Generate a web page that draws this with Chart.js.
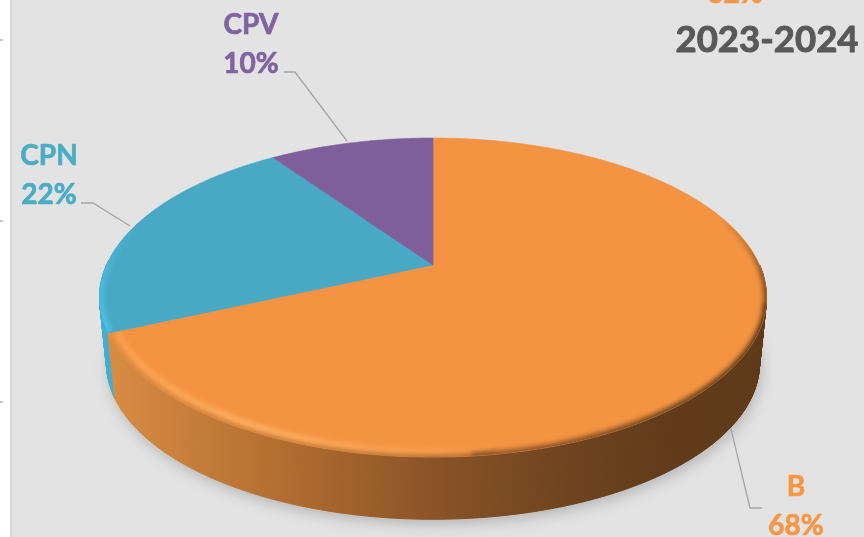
<!DOCTYPE html>
<html><head><meta charset="utf-8">
<style>html,body{margin:0;padding:0;background:#fff}canvas{display:block}</style>
<script src="https://cdn.jsdelivr.net/npm/chart.js@4"></script>
</head><body><canvas id="c" width="864" height="537"></canvas>
<script>
const categories = ['B', 'CPN', 'CPV'];
const shares = [68.3, 22.0, 9.7];
const topColors = ['#f49443', '#49a8c4', '#7f5f9b'];
const textColors = ['#f79646', '#4bacc6', '#8064a2'];
const title = '2023-2024';
const clippedLabel = '62%';

const CX = 433, CY = 265, R = 326.5, RY = 152.9, K = -0.204;
const DEPTH = 67, LOW = 0.98;
function pt(a, s, dy) {
  s = s === undefined ? 1 : s; dy = dy || 0;
  const u = Math.cos(a) * s, v = Math.sin(a) * s, w = 1 + K * v;
  return [CX + R * u / w, CY + dy + RY * v / w];
}
function low(a) { return pt(a, LOW, DEPTH); }
function outline(ctx, fn) {
  ctx.beginPath();
  for (let i = 0; i <= 360; i++) {
    const p = fn(i * Math.PI / 180);
    i ? ctx.lineTo(p[0], p[1]) : ctx.moveTo(p[0], p[1]);
  }
  ctx.closePath();
}
function arcPath(ctx, a0, a1, s) {
  ctx.beginPath();
  const n = Math.max(2, Math.ceil(Math.abs(a1 - a0) * 90));
  for (let i = 0; i <= n; i++) {
    const p = pt(a0 + (a1 - a0) * i / n, s);
    i ? ctx.lineTo(p[0], p[1]) : ctx.moveTo(p[0], p[1]);
  }
}
function wall(ctx, a0, a1, style) {
  ctx.fillStyle = style; ctx.strokeStyle = style; ctx.lineWidth = 1;
  const n = Math.ceil((a1 - a0) * 90);
  for (let i = 0; i < n; i++) {
    const b0 = a0 + (a1 - a0) * i / n, b1 = a0 + (a1 - a0) * (i + 1) / n;
    const p = [pt(b0), pt(b1), low(b1), low(b0)];
    ctx.beginPath();
    p.forEach((q, j) => j ? ctx.lineTo(q[0], q[1]) : ctx.moveTo(q[0], q[1]));
    ctx.closePath(); ctx.fill(); ctx.stroke();
  }
}

const pie3d = {
  id: 'pie3d',
  beforeDraw(chart) {
    const ctx = chart.ctx;
    ctx.save();
    ctx.fillStyle = '#fff'; ctx.fillRect(0, 0, 864, 537);
    ctx.fillStyle = '#e3e3e3'; ctx.fillRect(10, 0, 854, 537);
    ctx.fillStyle = '#d8d8d8'; ctx.fillRect(10, 0, 2, 537);
    ctx.fillStyle = '#c4c4c4';
    [40, 221, 402].forEach(y => ctx.fillRect(0, y - 1, 3, 2));
    ctx.restore();
  },
  beforeDatasetsDraw(chart) {
    const ctx = chart.ctx, arcs = chart.getDatasetMeta(0).data;
    ctx.save();
    // shadow
    ctx.save();
    ctx.filter = 'blur(7px)';
    ctx.fillStyle = 'rgba(0,0,0,0.2)';
    outline(ctx, a => { const p = low(a); return [p[0] + 2, p[1] + 5]; });
    ctx.fill();
    ctx.restore();
    // side walls
    const g = ctx.createLinearGradient(105, 0, 765, 0);
    g.addColorStop(0, '#d98d44');
    g.addColorStop(0.1, '#cb813c');
    g.addColorStop(0.3, '#ad6a2e');
    g.addColorStop(0.5, '#8a5327');
    g.addColorStop(0.7, '#6f441f');
    g.addColorStop(0.85, '#613b1a');
    g.addColorStop(1, '#5f3a19');
    const orangeEnd = arcs[0].endAngle;
    wall(ctx, 0, Math.PI * 0.02, '#5f3a19');
    wall(ctx, orangeEnd, orangeEnd + 0.45, '#46add0');
    wall(ctx, 0, orangeEnd, g);
    // top surface
    arcs.forEach((arc, i) => {
      ctx.beginPath();
      ctx.moveTo(CX, CY);
      const n = Math.ceil((arc.endAngle - arc.startAngle) * 90);
      for (let j = 0; j <= n; j++) {
        const p = pt(arc.startAngle + (arc.endAngle - arc.startAngle) * j / n);
        ctx.lineTo(p[0], p[1]);
      }
      ctx.closePath();
      ctx.fillStyle = topColors[i];
      ctx.fill();
      ctx.strokeStyle = topColors[i]; ctx.lineWidth = 0.6; ctx.stroke();
      // bevel
      ctx.save();
      ctx.clip();
      ctx.lineCap = 'butt';
      if (i === 0) {
        ctx.filter = 'blur(2.5px)';
        const m = ctx.createLinearGradient(110, 0, 520, 0);
        m.addColorStop(0, 'rgba(214,136,66,0.85)');
        m.addColorStop(1, 'rgba(160,98,48,0.95)');
        ctx.strokeStyle = m; ctx.lineWidth = 6;
        arcPath(ctx, Math.PI * 0.45, arc.endAngle, 1.0); ctx.stroke();
        const h = ctx.createLinearGradient(110, 0, 520, 0);
        h.addColorStop(0, 'rgba(255,176,96,0.55)');
        h.addColorStop(0.35, 'rgba(255,182,104,1)');
        h.addColorStop(0.8, 'rgba(255,170,90,0.6)');
        h.addColorStop(1, 'rgba(255,170,90,0)');
        ctx.strokeStyle = h; ctx.lineWidth = 5;
        arcPath(ctx, Math.PI * 0.45, arc.endAngle, 0.976); ctx.stroke();
        const d = ctx.createLinearGradient(480, 0, 760, 0);
        d.addColorStop(0, 'rgba(140,84,40,0.9)');
        d.addColorStop(1, 'rgba(90,54,22,1)');
        ctx.strokeStyle = d; ctx.lineWidth = 8;
        arcPath(ctx, 0.25, Math.PI * 0.47, 1.003); ctx.stroke();
        const e = ctx.createLinearGradient(0, 215, 0, 345);
        e.addColorStop(0, 'rgba(90,54,22,0)');
        e.addColorStop(0.5, 'rgba(90,54,22,0.75)');
        e.addColorStop(1, 'rgba(90,54,22,1)');
        ctx.strokeStyle = e; ctx.lineWidth = 8;
        arcPath(ctx, -0.75, 0.27, 1.003); ctx.stroke();
      } else if (i === 1) {
        ctx.filter = 'blur(2px)';
        const b = ctx.createLinearGradient(0, 225, 0, 320);
        b.addColorStop(0, 'rgba(78,186,222,0)');
        b.addColorStop(0.6, 'rgba(78,186,222,0.9)');
        b.addColorStop(1, 'rgba(78,190,226,1)');
        ctx.strokeStyle = b; ctx.lineWidth = 10;
        arcPath(ctx, arc.startAngle, arc.startAngle + 0.7, 1.0); ctx.stroke();
      }
      ctx.restore();
    });
    ctx.restore();
    return false;
  },
  afterDraw(chart) {
    const ctx = chart.ctx;
    ctx.save();
    // leader lines
    ctx.strokeStyle = '#a6a6a6'; ctx.lineWidth = 1.3;
    [
      [[731, 429], [750, 508], [762, 508]],
      [[81, 203], [93, 203], [130, 226]],
      [[284, 72], [295, 72], [347, 141]]
    ].forEach(l => {
      ctx.beginPath();
      l.forEach((p, j) => j ? ctx.lineTo(p[0], p[1]) : ctx.moveTo(p[0], p[1]));
      ctx.stroke();
    });
    // labels
    ctx.textAlign = 'center';
    ctx.textBaseline = 'alphabetic';
    ctx.lineJoin = 'round';
    ctx.font = 'bold 28px Lato';
    ctx.lineWidth = 0.7;
    const spots = [[796, 496, 535], [49, 165, 204], [251, 34, 73]];
    const both = (t, x, y, c) => {
      ctx.fillStyle = c; ctx.strokeStyle = c;
      ctx.fillText(t, x, y); ctx.strokeText(t, x, y);
    };
    categories.forEach((c, i) => {
      both(c, spots[i][0], spots[i][1], textColors[i]);
      both(Math.round(shares[i]) + '%', spots[i][0], spots[i][2], textColors[i]);
    });
    both(clippedLabel, 735, 3, textColors[0]);
    ctx.font = 'bold 36.5px Lato';
    ctx.lineWidth = 1;
    both(title, 767, 52, '#595959');
    ctx.restore();
  }
};

new Chart(document.getElementById('c'), {
  type: 'pie',
  data: { labels: categories, datasets: [{ data: shares, backgroundColor: topColors, borderWidth: 0 }] },
  options: {
    responsive: false, animation: false,
    rotation: 0,
    plugins: { legend: { display: false }, tooltip: { enabled: false } }
  },
  plugins: [pie3d]
});
</script></body></html>
